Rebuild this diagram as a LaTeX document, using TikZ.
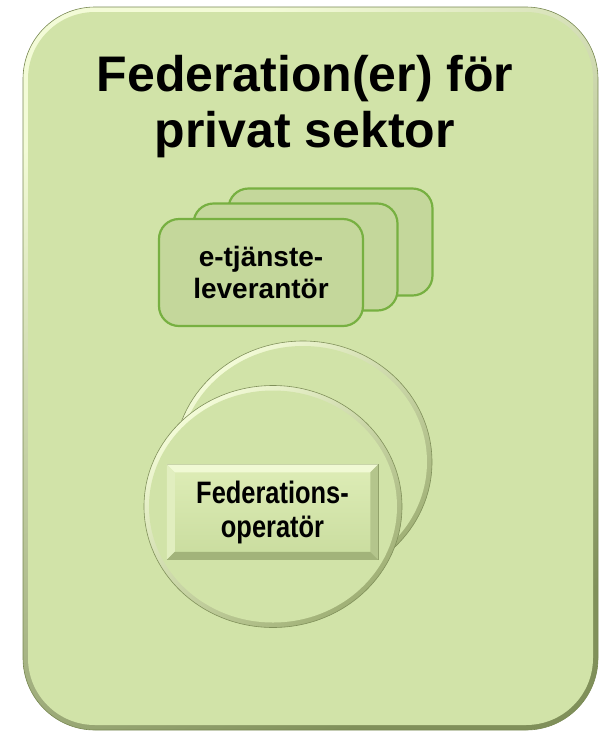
\documentclass[tikz,border=0pt]{standalone}
\usepackage{fontspec}
\setmainfont{Liberation Sans}
\newfontfamily\narrowsans[FakeStretch=0.82]{Liberation Sans}
\usetikzlibrary{shapes.geometric}
\definecolor{panelgreen}{RGB}{209,227,168}
\definecolor{paneledge}{RGB}{120,136,82}
\definecolor{rimlight}{RGB}{243,251,215}
\definecolor{rimdark}{RGB}{128,144,90}
\definecolor{discshadow}{RGB}{160,176,118}
\definecolor{cardgreen}{RGB}{196,215,155}
\definecolor{cardline}{RGB}{119,176,65}
\definecolor{facetop}{RGB}{222,237,183}
\definecolor{facebottom}{RGB}{201,220,158}

\begin{document}
\begin{tikzpicture}[x=1pt, y=-1pt,
      panel/.style={rectangle, rounded corners=72pt, minimum width=575pt, minimum height=723pt,
        draw=paneledge, line width=0.6pt, top color=rimlight, bottom color=rimdark, shading angle=30,
        path picture={\fill[panelgreen, rounded corners=67pt]
          ([shift={(5pt,5pt)}]path picture bounding box.south west) rectangle
          ([shift={(-5pt,-5pt)}]path picture bounding box.north east);}},
      disc/.style={ellipse, minimum width=258pt, minimum height=242pt, inner sep=0pt,
        draw=rimdark, line width=0.6pt, top color=rimlight, bottom color=discshadow, shading angle=40,
        path picture={\fill[panelgreen] (path picture bounding box.center)
          ellipse [x radius=124pt, y radius=116pt];}},
      card/.style={rectangle, rounded corners=20pt, minimum width=204pt, minimum height=107pt,
        fill=cardgreen, draw=cardline, line width=2.2pt, align=center,
        font=\fontsize{28}{32}\selectfont\bfseries},
      operator/.style={rectangle, minimum width=211pt, minimum height=95pt,
        top color=facetop, bottom color=facebottom, draw=rimdark, line width=0.5pt, align=center,
        font=\narrowsans\fontsize{31}{34}\selectfont\bfseries},
      title/.style={inner sep=0pt, align=center, font=\fontsize{50}{56}\selectfont\bfseries},
      bevel top/.style={fill={rgb,255:red,240;green,249;blue,212}},
      bevel left/.style={fill={rgb,255:red,225;green,238;blue,191}},
      bevel right/.style={fill={rgb,255:red,180;green,197;blue,140}},
      bevel bottom/.style={fill={rgb,255:red,162;green,179;blue,122}}]

      \useasboundingbox (0,0) rectangle (603,732);

      % outer panel and title
      \node[panel] (panel) at (310.5,368.5) {};
      \node[title] (title) at (305,107) {Federation(er) för\\privat sektor};

      % stacked provider cards
      \foreach \i/\cx/\cy in {3/330.5/242, 2/295.5/257}
        \node[card] (card\i) at (\cx,\cy) {};
      \node[card] (card1) at (261,272.5) {e-tjänste-\\leverantör};

      % operator discs
      \node[disc] (backdisc) at (303,462) {};
      \node[disc] (frontdisc) at (273,506.5) {};

      \node[operator] (op) at (272.5,512) {Federations-\\operatör};
      \fill[bevel top] (op.north west) -- (op.north east) -- ([shift={(-8pt,-8pt)}]op.north east)
        -- ([shift={(8pt,-8pt)}]op.north west) -- cycle;
      \fill[bevel left] (op.north west) -- ([shift={(8pt,-8pt)}]op.north west)
        -- ([shift={(8pt,8pt)}]op.south west) -- (op.south west) -- cycle;
      \fill[bevel right] (op.north east) -- ([shift={(-8pt,-8pt)}]op.north east)
        -- ([shift={(-8pt,8pt)}]op.south east) -- (op.south east) -- cycle;
      \fill[bevel bottom] (op.south west) -- ([shift={(8pt,8pt)}]op.south west)
        -- ([shift={(-8pt,8pt)}]op.south east) -- (op.south east) -- cycle;
    \end{tikzpicture}
\end{document}
